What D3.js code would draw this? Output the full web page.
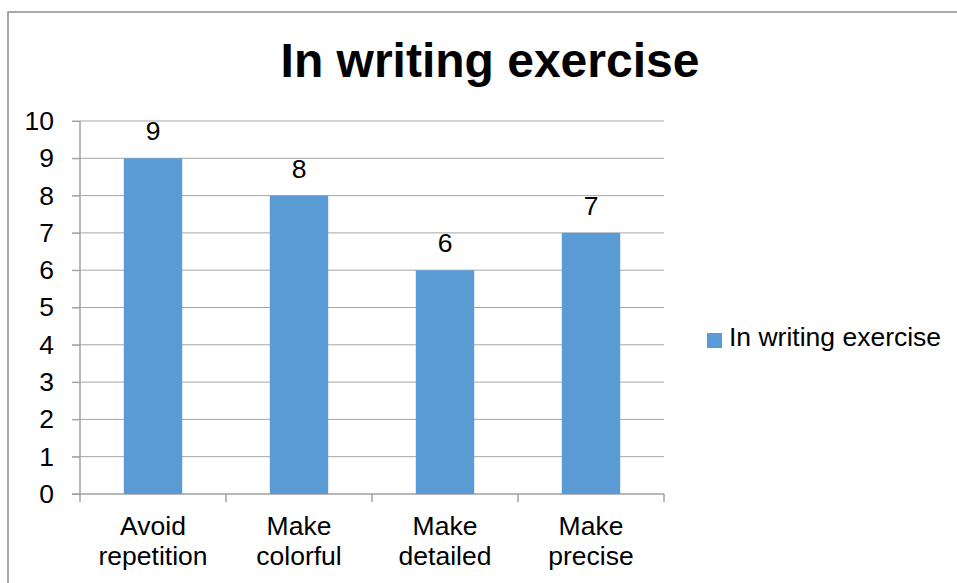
<!DOCTYPE html>
<meta charset="utf-8">
<title>In writing exercise</title>
<style>
  body { margin: 0; background: #fff; font-family: "Liberation Sans", Arial, sans-serif; }
  .grid line { stroke: #a6a6a6; stroke-width: 1; }
  .axis path, .axis line { stroke: #a0a0a0; stroke-width: 1.5; }
  .axis text { font-size: 26.5px; fill: #000; }
</style>
<body>
<script src="https://d3js.org/d3.v7.min.js"></script>
<script>
  var categories = [["Avoid", "repetition"], ["Make", "colorful"], ["Make", "detailed"], ["Make", "precise"]];
  var values = [9, 8, 6, 7];
  var yTicks = [0, 1, 2, 3, 4, 5, 6, 7, 8, 9, 10];
  var seriesName = "In writing exercise";

  var W = 957, H = 583;
  var plotL = 80, plotR = 664, plotT = 121, plotB = 494;
  var barColor = "#5b9bd5";
  var fontSize = "26.5px";

  var svg = d3.select("body").append("svg")
      .attr("width", W)
      .attr("height", H);

  // chart border
  svg.append("rect")
      .attr("x", 8).attr("y", 12)
      .attr("width", W + 10).attr("height", H + 10)
      .attr("fill", "none")
      .attr("stroke", "#8c8c8c")
      .attr("stroke-width", 1.5);

  svg.append("text")
      .attr("x", 490).attr("y", 77)
      .attr("text-anchor", "middle")
      .style("font-size", "48px")
      .style("font-weight", "bold")
      .text("In writing exercise");

  var x = d3.scaleBand()
      .domain(d3.range(categories.length))
      .range([plotL, plotR])
      .paddingInner(0.6)
      .paddingOuter(0.3);

  var y = d3.scaleLinear()
      .domain([0, 10])
      .range([plotB, plotT]);

  // gridlines
  svg.append("g").attr("class", "grid")
    .selectAll("line")
    .data(yTicks.filter(function(d) { return d > 0; }))
    .enter().append("line")
      .attr("x1", plotL - 8).attr("x2", plotR)
      .attr("y1", function(d) { return y(d); })
      .attr("y2", function(d) { return y(d); });

  // y axis
  var yAxis = d3.axisLeft(y).tickValues(yTicks).tickSize(8).tickPadding(18);
  var gy = svg.append("g").attr("class", "axis")
      .attr("transform", "translate(" + plotL + ",0)")
      .call(yAxis);
  gy.select(".domain").attr("d", "M0," + plotT + "V" + plotB);
  gy.selectAll(".tick line").attr("stroke", "#a6a6a6").style("stroke-width", 1);

  // x axis with category boundary ticks
  var step = x.step();
  var bounds = d3.range(categories.length + 1).map(function(i) { return plotL + i * step; });
  var gx = svg.append("g").attr("class", "axis");
  gx.append("line")
      .attr("x1", plotL - 8).attr("x2", plotR)
      .attr("y1", plotB).attr("y2", plotB);
  gx.selectAll("line.tk")
    .data(bounds)
    .enter().append("line")
      .attr("class", "tk")
      .attr("x1", function(d) { return d; }).attr("x2", function(d) { return d; })
      .attr("y1", plotB).attr("y2", plotB + 8);

  // bars
  svg.selectAll("rect.bar")
    .data(values)
    .enter().append("rect")
      .attr("class", "bar")
      .attr("x", function(d, i) { return x(i); })
      .attr("width", x.bandwidth())
      .attr("y", function(d) { return y(d); })
      .attr("height", function(d) { return plotB - y(d); })
      .attr("fill", barColor);

  // data labels
  svg.selectAll("text.val")
    .data(values)
    .enter().append("text")
      .attr("class", "val")
      .attr("x", function(d, i) { return x(i) + x.bandwidth() / 2; })
      .attr("y", function(d) { return y(d) - 18; })
      .attr("text-anchor", "middle")
      .style("font-size", fontSize)
      .text(function(d) { return d; });

  // category labels (two lines)
  var lab = svg.selectAll("text.cat")
    .data(categories)
    .enter().append("text")
      .attr("class", "cat")
      .attr("text-anchor", "middle")
      .style("font-size", fontSize);
  lab.selectAll("tspan")
    .data(function(d, i) { return d.map(function(s) { return { s: s, i: i }; }); })
    .enter().append("tspan")
      .attr("x", function(d) { return x(d.i) + x.bandwidth() / 2; })
      .attr("y", function(d, j) { return 535 + j * 30; })
      .text(function(d) { return d.s; });

  // legend
  var lg = svg.append("g").attr("transform", "translate(707,333)");
  lg.append("rect").attr("width", 15).attr("height", 15).attr("fill", barColor);
  lg.append("text").attr("x", 22).attr("y", 13)
      .style("font-size", fontSize)
      .text(seriesName);
</script>
</body>
